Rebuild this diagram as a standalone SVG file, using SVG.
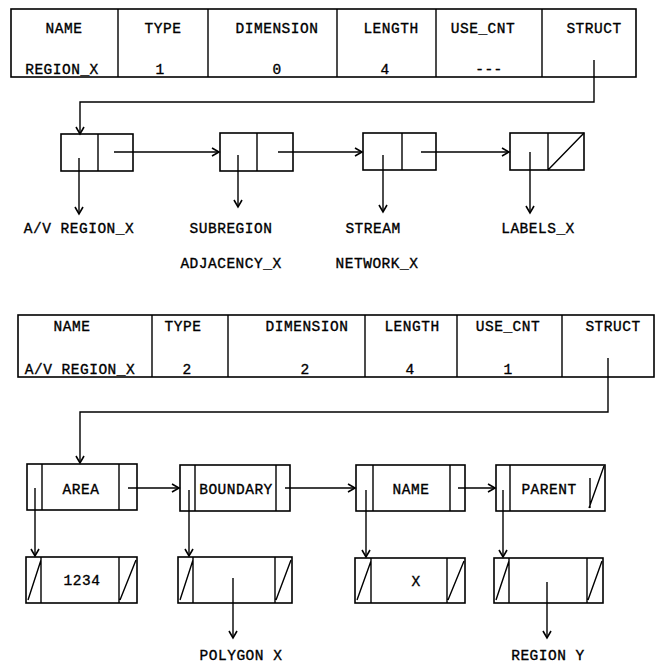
<svg xmlns="http://www.w3.org/2000/svg" width="659" height="663" viewBox="0 0 659 663">
<defs>
<marker id="ah" markerUnits="userSpaceOnUse" markerWidth="12" markerHeight="12" refX="0" refY="0" viewBox="-8 -6 10 12" orient="auto" overflow="visible">
<path d="M-7,-4 L0,0 L-7,4" fill="none" stroke="#000" stroke-width="1.6"/>
</marker>
</defs>
<style>
text{font-family:"Liberation Mono","DejaVu Sans Mono",monospace;font-size:14.5px;letter-spacing:0.5px;fill:#000;stroke:#000;stroke-width:0.35px;text-anchor:middle}
.b{fill:#fff;stroke:#000;stroke-width:1.6}
.l{fill:none;stroke:#000;stroke-width:1.4}
.c{fill:none;stroke:#000;stroke-width:1.4;marker-end:url(#ah)}
</style>
<rect width="659" height="663" fill="#fff"/>

<g id="table1">
<rect class="b" x="11" y="9" width="625" height="68"/>
<path class="l" d="M118,9V77M208,9V77M337,9V77M436,9V77M542,9V77"/>
<text x="64" y="33">NAME</text>
<text x="163" y="33">TYPE</text>
<text x="277" y="33">DIMENSION</text>
<text x="391" y="33">LENGTH</text>
<text x="483" y="33">USE_CNT</text>
<text x="594" y="33">STRUCT</text>
<text x="62" y="74">REGION_X</text>
<text x="160" y="74">1</text>
<text x="277" y="74">0</text>
<text x="385" y="74">4</text>
<text x="489" y="74">---</text>
</g>

<g id="n1">
<rect class="b" x="61" y="134" width="72" height="37"/>
<path class="l" d="M98,134V171"/>
</g>
<g id="n2">
<rect class="b" x="220" y="133" width="73" height="38"/>
<path class="l" d="M257,133V171"/>
</g>
<g id="n3">
<rect class="b" x="363" y="133" width="73" height="37"/>
<path class="l" d="M402,133V170"/>
</g>
<g id="n4">
<rect class="b" x="510" y="133" width="74" height="37"/>
<path class="l" d="M548,133V170M548,170L584,133"/>
</g>

<g id="labels1">
<text x="79" y="233">A/V REGION_X</text>
<text x="231" y="233">SUBREGION</text>
<text x="231" y="268">ADJACENCY_X</text>
<text x="373" y="233">STREAM</text>
<text x="377" y="268">NETWORK_X</text>
<text x="538" y="233">LABELS_X</text>
</g>

<g id="table2">
<rect class="b" x="18" y="315" width="636" height="62"/>
<path class="l" d="M152,315V377M228,315V377M365,315V377M457,315V377M562,315V377"/>
<text x="72" y="331">NAME</text>
<text x="183" y="331">TYPE</text>
<text x="307" y="331">DIMENSION</text>
<text x="412" y="331">LENGTH</text>
<text x="508" y="331">USE_CNT</text>
<text x="613" y="331">STRUCT</text>
<text x="80" y="374">A/V REGION_X</text>
<text x="187" y="374">2</text>
<text x="305" y="374">2</text>
<text x="410" y="374">4</text>
<text x="508" y="374">1</text>
</g>

<g id="area">
<rect class="b" x="27" y="464" width="110" height="46"/>
<path class="l" d="M42,464V510M119,464V510"/>
<text x="81" y="494">AREA</text>
</g>
<g id="boundary">
<rect class="b" x="180" y="465" width="110" height="46"/>
<path class="l" d="M195,465V511M276,465V511"/>
<text x="236" y="494">BOUNDARY</text>
</g>
<g id="name">
<rect class="b" x="356" y="465" width="109" height="46"/>
<path class="l" d="M373,465V511M450,465V511"/>
<text x="411" y="494">NAME</text>
</g>
<g id="parent">
<rect class="b" x="496" y="465" width="109" height="46"/>
<path class="l" d="M510,465V511M590,478V508M589,508L604,466"/>
<text x="549" y="494">PARENT</text>
</g>

<g id="v1234">
<rect class="b" x="26" y="557" width="111" height="46"/>
<path class="l" d="M41,557V603M119,557V603M28,600L41,560M120,600L136,560"/>
<text x="82" y="585">1234</text>
</g>
<g id="vpoly">
<rect class="b" x="178" y="557" width="114" height="46"/>
<path class="l" d="M193,557V603M275,557V603M180,600L193,560M276,600L291,560"/>
</g>
<g id="vx">
<rect class="b" x="355" y="558" width="110" height="45"/>
<path class="l" d="M371,558V603M447,558V603M357,600L371,561M448,600L464,561"/>
<text x="416" y="586">X</text>
</g>
<g id="vregy">
<rect class="b" x="494" y="558" width="109" height="45"/>
<path class="l" d="M509,558V603M587,558V603M496,600L509,561M588,600L602,561"/>
</g>

<g id="labels2">
<text x="241" y="660">POLYGON X</text>
<text x="548" y="660">REGION Y</text>
</g>

<g id="connectors">
<path class="c" d="M594,60V102H80V134"/>
<path class="c" d="M114,152H219"/>
<path class="c" d="M278,152H362"/>
<path class="c" d="M421,152H509"/>
<path class="c" d="M79,158V214"/>
<path class="c" d="M238,155V207"/>
<path class="c" d="M383,155V212"/>
<path class="c" d="M530,152V213"/>
<path class="c" d="M608,358V412H80V463"/>
<path class="c" d="M128,488H179"/>
<path class="c" d="M285,488H355"/>
<path class="c" d="M458,488H495"/>
<path class="c" d="M35,488V556"/>
<path class="c" d="M189,490V556"/>
<path class="c" d="M366,490V557"/>
<path class="c" d="M503,490V557"/>
<path class="c" d="M233,578V638"/>
<path class="c" d="M547,582V638"/>
</g>
</svg>
